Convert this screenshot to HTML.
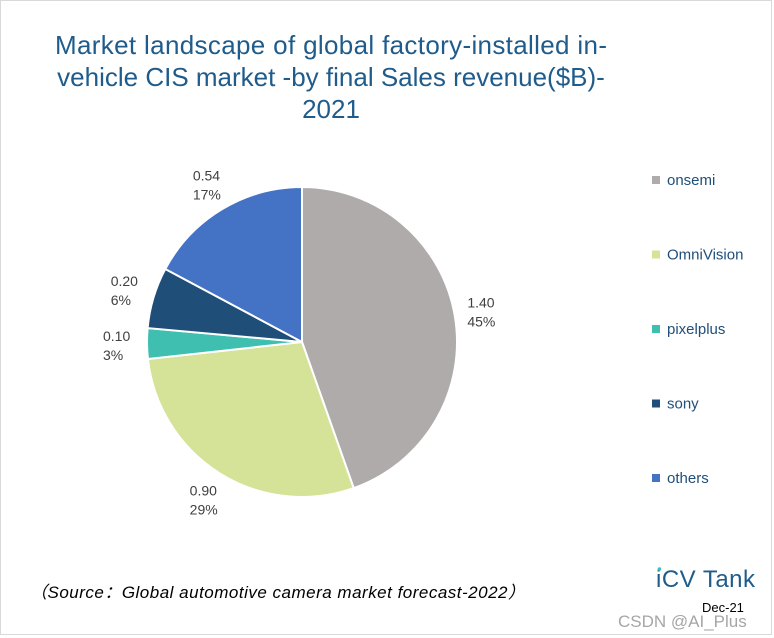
<!DOCTYPE html>
<html><head><meta charset="utf-8"><style>
body{margin:0;background:#fff;}
svg{display:block;font-family:"Liberation Sans","DejaVu Sans",sans-serif;}
</style></head><body>
<svg id="c" width="774" height="638">
<rect x="0.5" y="0.5" width="771" height="634" fill="#fff" stroke="#d9d9d9"/>
<g fill="#1f5c8b" font-size="26" text-anchor="middle">
<text x="331" y="54" textLength="552">Market landscape of global factory-installed in-</text>
<text x="331" y="86">vehicle CIS market -by final Sales revenue($B)-</text>
<text x="331" y="118">2021</text>
</g>
<g id="slices"></g>
<g id="labels" font-size="14" fill="#404040"></g>
<g id="legend" font-size="15" fill="#1f4e79"></g>
<text x="30" y="598" font-size="17" font-style="italic" fill="#000" textLength="495">（Source：Global automotive camera market forecast-2022）</text>
<text x="656" y="587" font-size="24" fill="#1f5c8b" textLength="99">iCV Tank</text>
<circle cx="659.5" cy="569" r="1.8" fill="#3cc0b5"/>
<text x="702" y="612" font-size="13" fill="#000">Dec-21</text>
<text x="618" y="627" font-size="17" fill="#a6a6a6">CSDN @AI_Plus</text>
</svg>
<script>
const categories=["onsemi","OmniVision","pixelplus","sony","others"];
const values=[1.40,0.90,0.10,0.20,0.54];
const valueLabels=["1.40","0.90","0.10","0.20","0.54"];
const pctLabels=["45%","29%","3%","6%","17%"];
const colors=["#afabab","#d4e397","#3fbfb0","#1f4e79","#4472c4"];
const NS="http://www.w3.org/2000/svg";
const cx=302,cy=342,r=155;
const total=values.reduce((a,b)=>a+b,0);
const sl=document.getElementById('slices'),lb=document.getElementById('labels'),lg=document.getElementById('legend');
function pt(a,rr){return [cx+rr*Math.sin(a),cy-rr*Math.cos(a)];}
let a0=0;
values.forEach((v,i)=>{
  const a1=a0+v/total*2*Math.PI;
  const p0=pt(a0,r),p1=pt(a1,r);
  const large=(a1-a0)>Math.PI?1:0;
  const p=document.createElementNS(NS,'path');
  p.setAttribute('d',`M${cx},${cy}L${p0[0]},${p0[1]}A${r},${r} 0 ${large} 1 ${p1[0]},${p1[1]}Z`);
  p.setAttribute('fill',colors[i]);p.setAttribute('stroke','#fff');p.setAttribute('stroke-width','2');
  
  
  sl.appendChild(p);
  const am=(a0+a1)/2;const q=pt(am,r+30);
  const anchor=Math.sin(am)>0.3?'start':(Math.sin(am)<-0.3?'end':'middle');
  const t=document.createElementNS(NS,'text');
  
  
  const tx=anchor==='end'?q[0]-14:anchor==='middle'?q[0]-8:q[0]-17;
  t.setAttribute('x',tx);t.setAttribute('y',q[1]-3);
  t.innerHTML=`<tspan x="${tx}">${valueLabels[i]}</tspan><tspan x="${tx}" dy="19">${pctLabels[i]}</tspan>`;
  lb.appendChild(t);
  a0=a1;
});
categories.forEach((c,i)=>{
  const y=180+i*74.5;
  const g=document.createElementNS(NS,'g');
  
  
  g.innerHTML=`<rect x="652" y="${y-4}" width="8" height="8" fill="${colors[i]}"/><text x="667" y="${y+5}">${c}</text>`;
  lg.appendChild(g);
});
</script>
</body></html>
